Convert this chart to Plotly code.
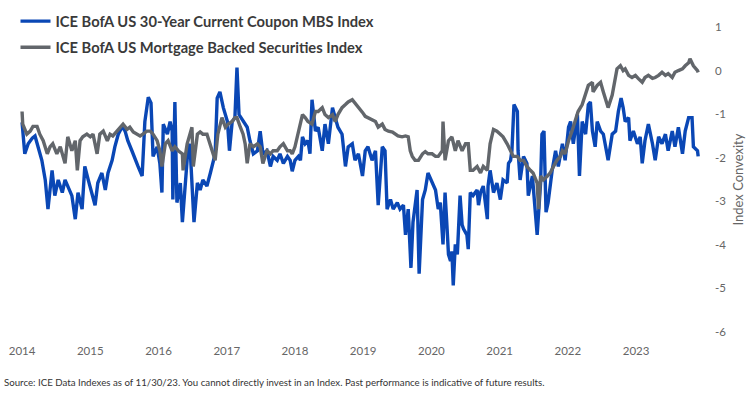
import plotly.graph_objects as go

# ---------------- data (decimal years, index convexity) ----------------
years = [2014, 2015, 2016, 2017, 2018, 2019, 2020, 2021, 2022, 2023]
y_ticks = [1, 0, -1, -2, -3, -4, -5, -6]

cc_t = [
    2014.00, 2014.04, 2014.09, 2014.15, 2014.19, 2014.23, 2014.29, 2014.34, 2014.38, 2014.44, 2014.48,
    2014.53, 2014.59, 2014.63, 2014.67, 2014.73, 2014.78, 2014.82, 2014.88, 2014.92, 2014.97,
    2015.03, 2015.07, 2015.11, 2015.17, 2015.22, 2015.26, 2015.32, 2015.36, 2015.41, 2015.47, 2015.51,
    2015.55, 2015.61, 2015.66, 2015.70, 2015.76, 2015.80, 2015.85, 2015.89, 2015.92, 2015.98,
    2016.02, 2016.05, 2016.07, 2016.13, 2016.17, 2016.20, 2016.21, 2016.24, 2016.27, 2016.32, 2016.35,
    2016.39, 2016.43, 2016.46, 2016.49, 2016.52, 2016.57, 2016.61, 2016.65, 2016.71, 2016.76, 2016.79,
    2016.83, 2016.86, 2016.90, 2016.95,
    2017.01, 2017.04, 2017.08, 2017.12, 2017.15, 2017.18, 2017.24, 2017.30, 2017.34, 2017.39, 2017.45,
    2017.49, 2017.53, 2017.59, 2017.64, 2017.68, 2017.74, 2017.78, 2017.83, 2017.89, 2017.93, 2017.96,
    2018.00, 2018.05, 2018.08, 2018.11, 2018.15, 2018.19, 2018.22, 2018.25, 2018.30, 2018.34, 2018.40,
    2018.44, 2018.49, 2018.55, 2018.59, 2018.63, 2018.69, 2018.74, 2018.78, 2018.84, 2018.88, 2018.93,
    2018.99,
    2019.03, 2019.07, 2019.13, 2019.18, 2019.22, 2019.28, 2019.32, 2019.35, 2019.40, 2019.44, 2019.50,
    2019.54, 2019.59, 2019.62, 2019.66, 2019.70, 2019.73, 2019.79, 2019.82, 2019.87, 2019.91, 2019.95,
    2020.01, 2020.06, 2020.10, 2020.13, 2020.17, 2020.20, 2020.23, 2020.25, 2020.28, 2020.30, 2020.32,
    2020.35, 2020.38, 2020.42, 2020.45, 2020.47, 2020.52, 2020.54, 2020.57, 2020.61, 2020.67, 2020.69,
    2020.72, 2020.76, 2020.82, 2020.83, 2020.86, 2020.91, 2020.96,
    2021.01, 2021.05, 2021.11, 2021.13, 2021.16, 2021.18, 2021.21, 2021.26, 2021.27, 2021.30, 2021.35,
    2021.40, 2021.42, 2021.48, 2021.52, 2021.55, 2021.60, 2021.62, 2021.65, 2021.68, 2021.71, 2021.77,
    2021.82, 2021.86, 2021.92, 2021.96,
    2022.01, 2022.04, 2022.08, 2022.14, 2022.17, 2022.21, 2022.26, 2022.30, 2022.33, 2022.36, 2022.40,
    2022.43, 2022.48, 2022.52, 2022.58, 2022.59, 2022.65, 2022.70, 2022.74, 2022.78, 2022.81, 2022.84,
    2022.89, 2022.91, 2022.96,
    2023.02, 2023.06, 2023.09, 2023.13, 2023.18, 2023.24, 2023.28, 2023.33, 2023.38, 2023.43, 2023.47,
    2023.53, 2023.57, 2023.62, 2023.68, 2023.72, 2023.77, 2023.82, 2023.84, 2023.90, 2023.91,
]
cc_v = [
    -1.19, -1.91, -1.68, -1.55, -1.50, -1.75, -2.06, -2.51, -3.18, -2.29, -2.87,
    -2.51, -2.80, -2.51, -2.65, -2.87, -3.41, -2.80, -3.18, -2.20, -2.51,
    -2.87, -3.09, -2.58, -2.35, -2.74, -2.35, -2.06, -1.75, -1.46, -1.28, -1.39,
    -1.61, -1.84, -2.06, -2.20, -2.42, -1.17, -0.61, -0.74, -1.97, -1.75,
    -2.13, -2.80, -1.23, -1.46, -1.17, -1.39, -2.96, -0.72, -3.03, -2.58, -3.48,
    -2.51, -1.84, -1.68, -2.58, -3.48, -2.58, -2.74, -2.51, -2.65, -2.35, -2.13,
    -1.91, -0.63, -0.49, -0.85,
    -1.17, -1.84, -1.17, -1.08, 0.07, -1.01, -1.17, -1.30, -1.61, -1.91, -1.84,
    -1.39, -1.91, -1.84, -2.20, -1.97, -2.06, -1.91, -2.13, -1.97, -2.06, -2.31,
    -2.06, -1.97, -2.06, -1.52, -1.68, -1.61, -1.91, -0.67, -1.39, -1.30, -1.84,
    -1.23, -1.68, -0.85, -1.08, -1.30, -1.46, -2.20, -1.75, -1.68, -2.06, -1.91,
    -2.42,
    -1.84, -1.75, -2.06, -1.84, -3.09, -1.75, -1.84, -3.18, -2.96, -3.18, -3.03,
    -3.18, -3.09, -3.77, -3.18, -4.53, -3.48, -2.74, -4.66, -2.96, -2.74, -2.35,
    -2.58, -2.74, -3.18, -3.03, -3.99, -2.80, -3.63, -4.22, -4.37, -4.15, -4.93,
    -3.99, -4.22, -2.87, -3.54, -3.63, -3.77, -4.10, -2.80, -2.87, -2.74, -3.09,
    -2.80, -2.65, -3.41, -2.65, -2.29, -2.80, -2.58,
    -2.96, -2.51, -2.58, -2.13, -2.06, -1.84, -0.78, -0.94, -1.84, -2.51, -1.97,
    -2.13, -2.87, -2.42, -3.18, -3.77, -2.58, -1.46, -1.39, -3.25, -3.03, -2.29,
    -1.84, -2.20, -1.68, -2.06,
    -1.30, -1.17, -1.68, -1.01, -2.42, -1.17, -1.46, -0.78, -0.72, -1.39, -1.75,
    -1.17, -1.39, -1.46, -1.97, -2.06, -1.46, -1.39, -0.94, -0.63, -0.85, -1.17,
    -1.08, -1.61, -1.39,
    -1.68, -1.52, -2.13, -1.61, -1.23, -1.68, -2.06, -1.52, -1.68, -1.46, -1.84,
    -1.39, -1.75, -1.30, -1.91, -1.39, -1.08, -1.08, -1.75, -1.84, -1.97,
]

mbs_t = [
    2014.00, 2014.01, 2014.07, 2014.12, 2014.16, 2014.22, 2014.26, 2014.31, 2014.37, 2014.41, 2014.45,
    2014.51, 2014.56, 2014.60, 2014.63, 2014.67, 2014.73, 2014.78, 2014.81, 2014.85, 2014.89, 2014.95,
    2015.00, 2015.04, 2015.10, 2015.14, 2015.19, 2015.25, 2015.29, 2015.33, 2015.39, 2015.44, 2015.48,
    2015.54, 2015.58, 2015.63, 2015.69, 2015.73, 2015.77, 2015.83, 2015.88, 2015.92, 2015.98,
    2016.02, 2016.05, 2016.10, 2016.14, 2016.20, 2016.24, 2016.29, 2016.35, 2016.36, 2016.42, 2016.46,
    2016.49, 2016.51, 2016.57, 2016.61, 2016.65, 2016.71, 2016.76, 2016.80, 2016.83, 2016.87, 2016.93,
    2016.98,
    2017.02, 2017.08, 2017.12, 2017.15, 2017.20, 2017.24, 2017.27, 2017.30, 2017.34, 2017.39, 2017.45,
    2017.49, 2017.53, 2017.59, 2017.64, 2017.68, 2017.74, 2017.78, 2017.83, 2017.89, 2017.93, 2017.96,
    2018.00, 2018.05, 2018.11, 2018.15, 2018.19, 2018.25, 2018.30, 2018.34, 2018.40, 2018.44, 2018.49,
    2018.55, 2018.59, 2018.63, 2018.69, 2018.74, 2018.78, 2018.84, 2018.88, 2018.93, 2018.99,
    2019.03, 2019.07, 2019.13, 2019.18, 2019.22, 2019.28, 2019.32, 2019.37, 2019.43, 2019.47, 2019.51,
    2019.57, 2019.62, 2019.66, 2019.69, 2019.72, 2019.76, 2019.81, 2019.87, 2019.91, 2019.95,
    2020.01, 2020.06, 2020.10, 2020.16, 2020.17, 2020.20, 2020.25, 2020.30, 2020.35, 2020.39, 2020.45,
    2020.50, 2020.54, 2020.57, 2020.61, 2020.67, 2020.72, 2020.76, 2020.82, 2020.86, 2020.91, 2020.96,
    2021.01, 2021.05, 2021.11, 2021.16, 2021.20, 2021.26, 2021.30, 2021.35, 2021.40, 2021.45, 2021.49,
    2021.55, 2021.57, 2021.60, 2021.64, 2021.70, 2021.74, 2021.79, 2021.84, 2021.89, 2021.92, 2021.96,
    2022.01, 2022.06, 2022.11, 2022.15, 2022.21, 2022.26, 2022.30, 2022.36, 2022.37, 2022.43, 2022.48,
    2022.52, 2022.58, 2022.59, 2022.65, 2022.70, 2022.72, 2022.77, 2022.81, 2022.84, 2022.89, 2022.94,
    2022.99,
    2023.03, 2023.09, 2023.13, 2023.18, 2023.24, 2023.28, 2023.33, 2023.38, 2023.43, 2023.47, 2023.53,
    2023.57, 2023.62, 2023.68, 2023.72, 2023.77, 2023.79, 2023.84, 2023.90, 2023.91,
]
mbs_v = [
    -0.94, -1.23, -1.46, -1.39, -1.28, -1.28, -1.46, -1.61, -1.91, -1.75, -1.68,
    -1.91, -1.75, -1.97, -2.13, -1.52, -1.84, -1.61, -2.29, -1.61, -1.52, -1.46,
    -1.52, -1.46, -1.91, -1.46, -1.39, -1.61, -1.46, -1.50, -1.39, -1.28, -1.23,
    -1.35, -1.30, -1.41, -1.46, -1.50, -1.46, -1.39, -1.39, -1.46, -1.61,
    -1.84, -2.20, -1.68, -1.61, -1.84, -1.75, -1.84, -1.91, -2.29, -1.68, -1.46,
    -1.30, -2.20, -1.46, -1.41, -1.46, -1.46, -1.68, -1.91, -2.06, -1.46, -1.08,
    -1.30,
    -1.23, -1.17, -1.08, -1.08, -1.30, -1.46, -1.68, -2.13, -1.68, -1.75, -1.68,
    -1.75, -2.13, -1.84, -1.91, -1.84, -1.84, -1.75, -1.68, -1.84, -1.84, -1.91,
    -1.75, -1.39, -1.01, -1.08, -1.17, -1.23, -0.94, -0.94, -0.85, -1.01, -1.08,
    -1.01, -1.17, -1.01, -0.85, -0.78, -0.72, -0.67, -0.74, -0.85, -0.96,
    -1.05, -1.08, -1.12, -1.17, -1.30, -1.23, -1.35, -1.39, -1.41, -1.46, -1.50,
    -1.52, -1.50, -1.52, -1.84, -1.97, -2.06, -2.06, -1.91, -1.86, -1.91,
    -1.91, -1.97, -1.97, -1.84, -1.17, -2.06, -1.61, -1.52, -1.84, -1.61, -1.84,
    -1.68, -1.68, -2.29, -2.29, -2.20, -2.35, -2.20, -2.29, -1.68, -1.35, -1.39,
    -1.46, -1.52, -1.68, -1.84, -1.97, -1.97, -2.06, -2.06, -2.20, -2.29, -2.35,
    -2.58, -3.18, -2.42, -2.51, -2.42, -2.35, -2.20, -2.06, -1.97, -1.84, -1.91,
    -1.61, -1.39, -1.17, -0.94, -0.78, -0.56, -0.34, -0.27, -0.49, -0.34, -0.27,
    -0.49, -0.78, -0.85, -0.56, -0.18, 0.04, 0.11, 0.00, 0.04, -0.11, -0.16,
    -0.11,
    -0.18, -0.27, -0.16, -0.11, -0.18, -0.16, -0.11, -0.04, -0.11, -0.07, -0.16,
    -0.04, 0.00, 0.04, 0.11, 0.18, 0.27, 0.11, 0.00, -0.04,
]

series_names = [
    "ICE BofA US 30-Year Current Coupon MBS Index",
    "ICE BofA US Mortgage Backed Securities Index",
]
source_text = ("Source: ICE Data Indexes as of 11/30/23. You cannot directly invest in an Index. "
               "Past performance is indicative of future results.")

# ---------------- figure ----------------
BLUE = "#0a47b5"
GRAY = "#62666b"
FONT = "Lato, 'Open Sans', sans-serif"
TICK = "#666666"

fig = go.Figure()
fig.add_trace(go.Scatter(x=cc_t, y=cc_v, mode="lines", name=series_names[0],
                         legendgroup="a", line=dict(color=BLUE, width=3.4)))
fig.add_trace(go.Scatter(x=mbs_t, y=mbs_v, mode="lines", name=series_names[1],
                         legendgroup="b", line=dict(color=GRAY, width=3.4)))

fig.update_layout(
    width=755, height=398,
    margin=dict(l=5, r=50, t=20, b=66),
    paper_bgcolor="white", plot_bgcolor="white",
    font=dict(family=FONT, color=TICK, size=12),
    showlegend=True,
    legend=dict(x=0.015, y=1.072, xanchor="left", yanchor="top",
                bgcolor="rgba(0,0,0,0)", tracegroupgap=4,
                font=dict(family=FONT, size=14.7, color="#3a3a3a", weight="bold")),
    xaxis=dict(range=[2013.75, 2024.01], tickvals=years, ticktext=[str(y) for y in years],
               showgrid=False, zeroline=False, showline=False, ticks="",
               tickfont=dict(size=11.5, color=TICK), ticklabelstandoff=10),
    yaxis=dict(side="right", range=[-6, 1], tickvals=y_ticks,
               ticktext=[str(v) for v in y_ticks], showgrid=False, zeroline=False,
               showline=False, ticks="", tickfont=dict(size=11.5, color=TICK),
               ticklabelstandoff=9,
               title=dict(text="Index Convexity", font=dict(size=13, color=TICK), standoff=8)),
    annotations=[dict(text=source_text, xref="paper", yref="paper", x=0, y=-0.163,
                      xanchor="left", yanchor="middle", xshift=-3, showarrow=False,
                      font=dict(family=FONT, size=9.7, color="#333333"))],
)

fig.write_html("out.html")
